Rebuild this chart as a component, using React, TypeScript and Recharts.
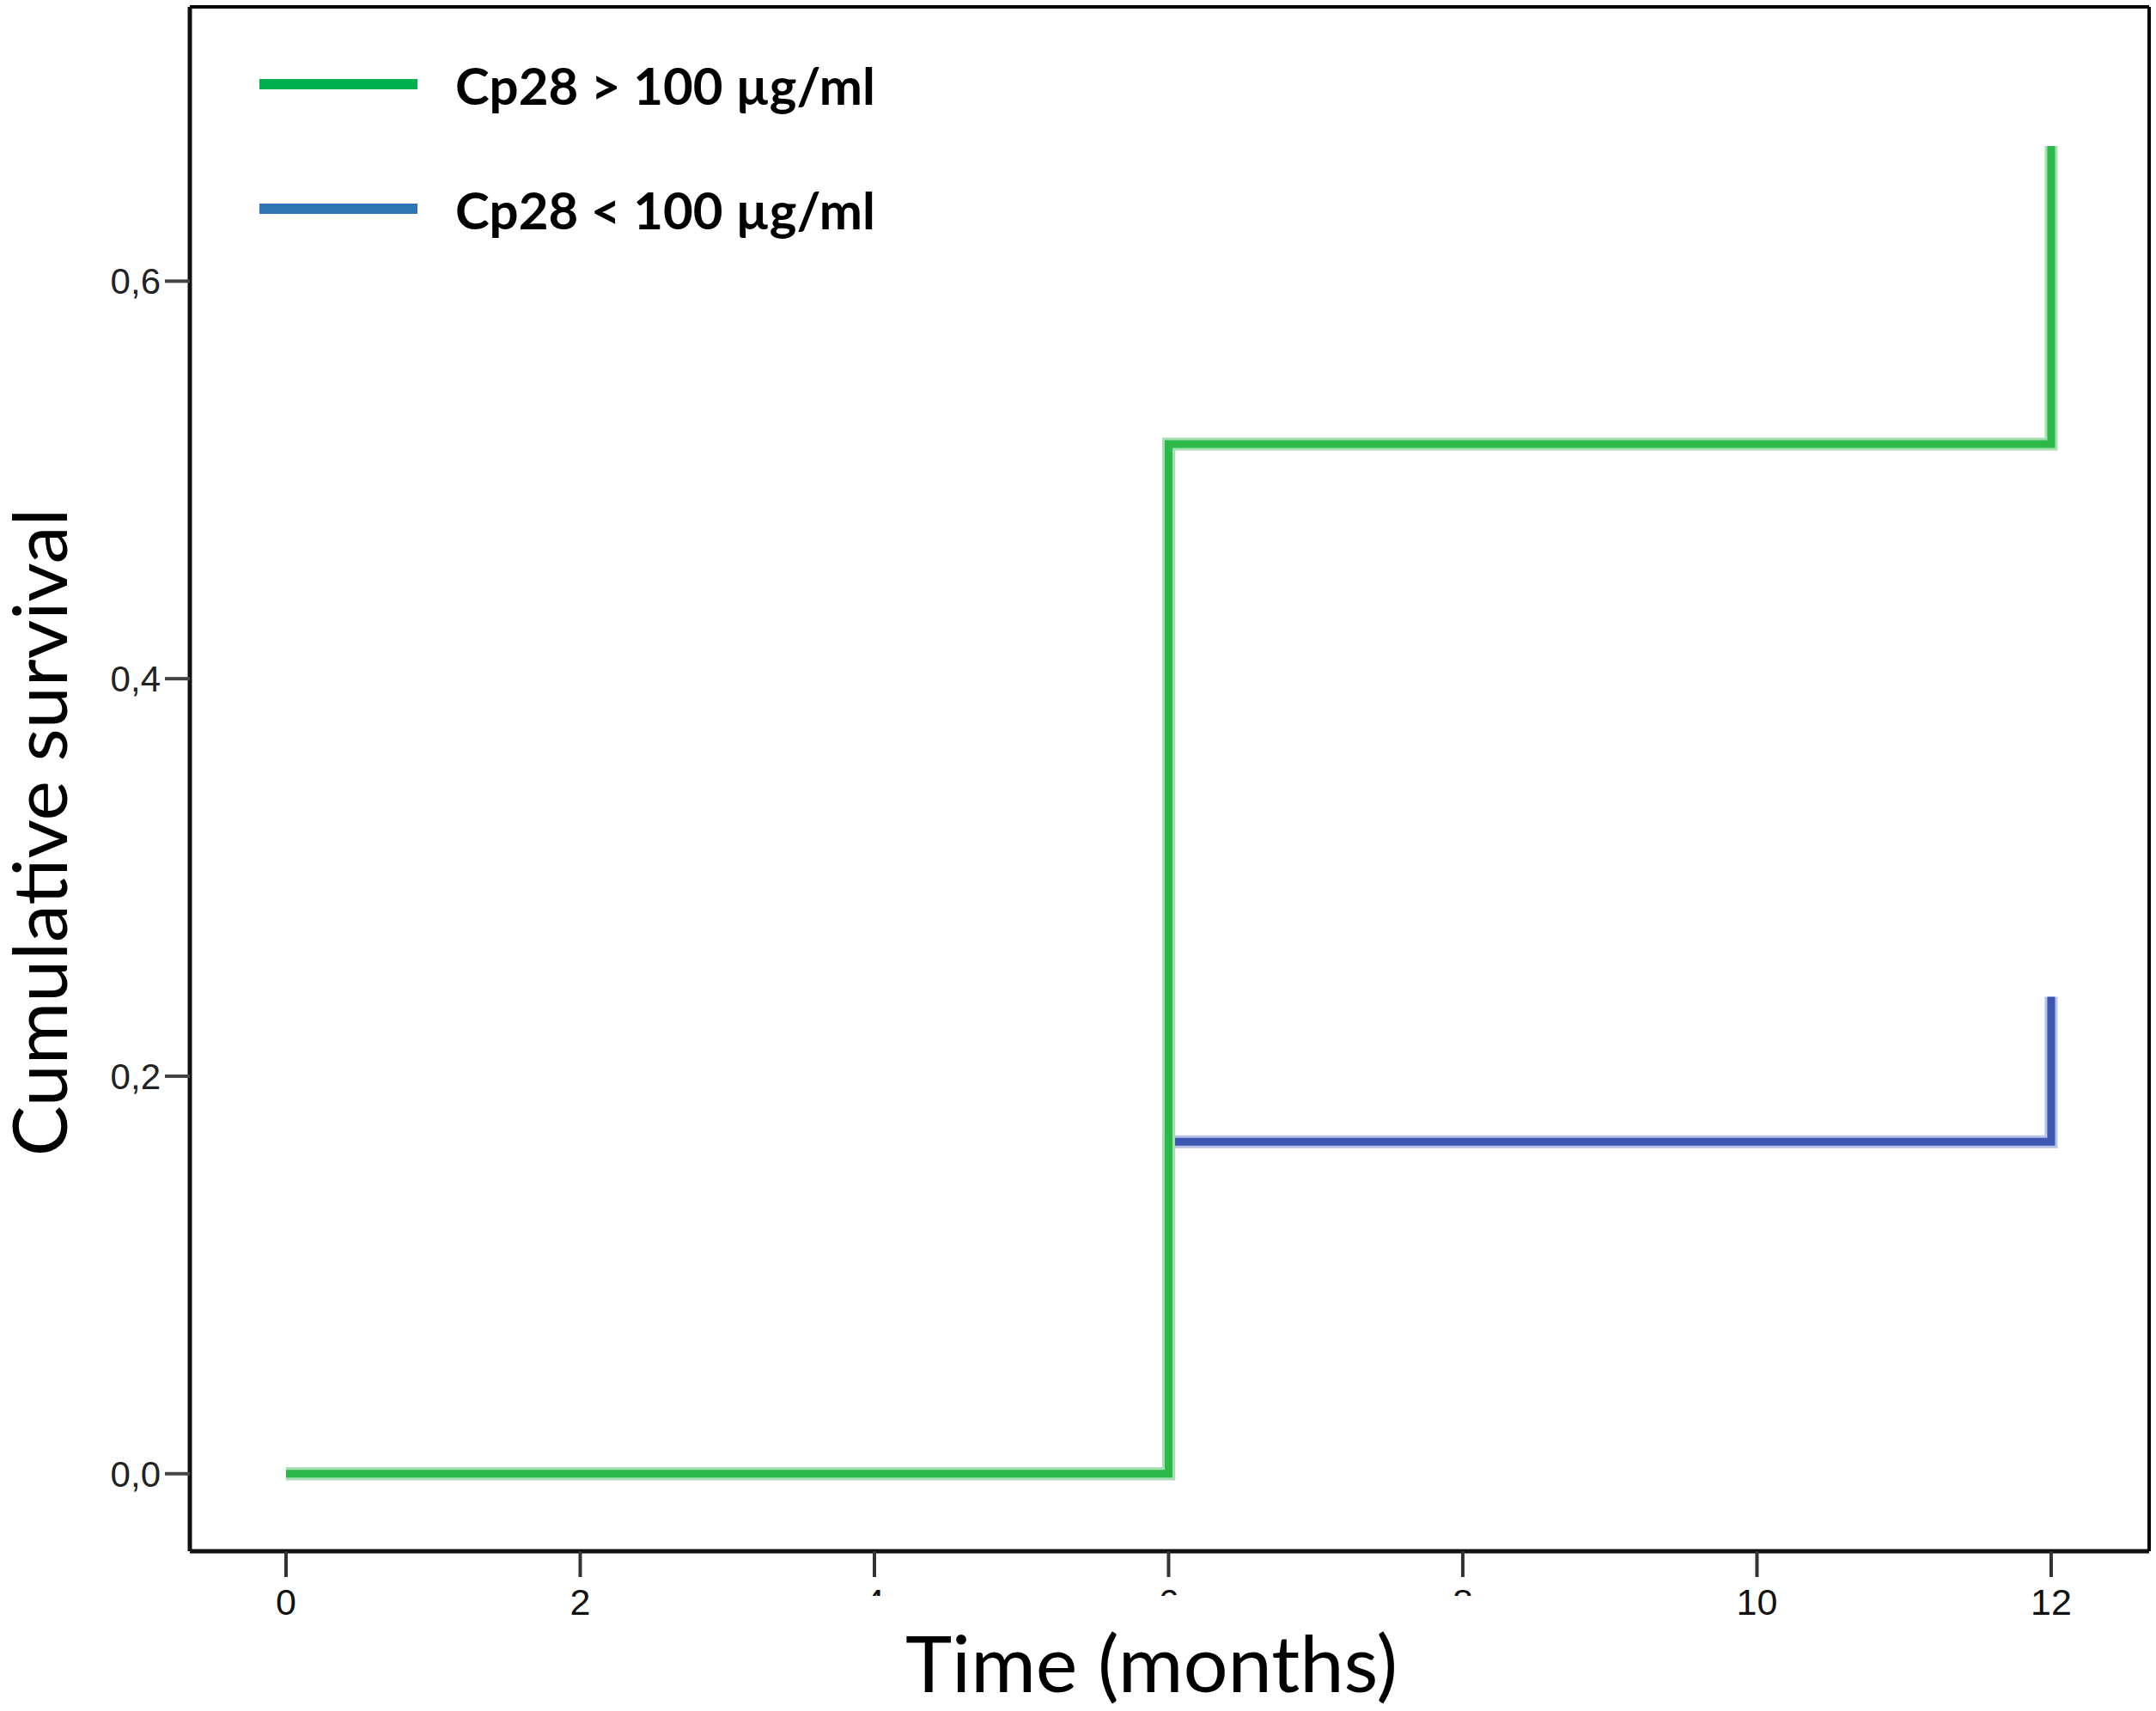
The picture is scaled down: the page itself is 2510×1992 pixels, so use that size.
import React from 'react';
import { LineChart, Line, XAxis, YAxis, Legend } from 'recharts';

// ---- data ----
const months = [0, 6, 12];
const highSurvival = [0, 0.518, 0.668]; // Cp28 > 100 µg/ml
const lowSurvival = [0, 0.167, 0.24]; // Cp28 < 100 µg/ml
const xTicks = [0, 2, 4, 6, 8, 10, 12];
const yTicks = [0, 0.2, 0.4, 0.6];
const partialXLabels = [4, 6, 8]; // labels that are cut off in the original
const seriesNames = ['Cp28 > 100 µg/ml', 'Cp28 < 100 µg/ml'];
const legendColors = ['#00b050', '#2e75b6'];
const xTitle = 'Time (months)';
const yTitle = 'Cumulative survival';

const data = months.map((m, i) => ({ month: m, high: highSurvival[i], low: lowSurvival[i] }));

const X_DOMAIN: [number, number] = [-0.654, 12.666];
const Y_DOMAIN: [number, number] = [-0.039, 0.738];

const tickFont = "'Liberation Sans', Arial, sans-serif";
const titleFont = "Lato, 'Open Sans', sans-serif";

const XTick = (props: any) => {
  const { x, y, payload } = props;
  const partial = partialXLabels.includes(payload.value);
  const id = `clip-xtick-${payload.value}`;
  return (
    <g>
      {partial && (
        <defs>
          <clipPath id={id}>
            <rect x={x - 30} y={y - 2} width={60} height={11} />
          </clipPath>
        </defs>
      )}
      <text
        x={x}
        y={y}
        dy="0.71em"
        textAnchor="middle"
        fontFamily={tickFont}
        fontSize={43}
        fill="#111"
        clipPath={partial ? `url(#${id})` : undefined}
      >
        {payload.value}
      </text>
    </g>
  );
};

const YTick = (props: any) => {
  const { x, y, payload } = props;
  return (
    <text x={x} y={y} dy="0.36em" textAnchor="end" fontFamily={tickFont} fontSize={42} fill="#222">
      {Number(payload.value).toFixed(1).replace('.', ',')}
    </text>
  );
};

const YTitle = (props: any) => {
  const { viewBox } = props;
  const cx = viewBox.x + 78;
  const cy = viewBox.y + viewBox.height / 2 + 62;
  return (
    <text
      x={cx}
      y={cy}
      transform={`rotate(-90, ${cx}, ${cy})`}
      textAnchor="middle"
      fontFamily={titleFont}
      fontSize={88}
      fill="#000"
    >
      {yTitle}
    </text>
  );
};

const XTitle = (props: any) => {
  const { viewBox } = props;
  const cx = viewBox.x + viewBox.width / 2 - 21;
  const cy = viewBox.y + 164;
  return (
    <text x={cx} y={cy} textAnchor="middle" fontFamily={titleFont} fontSize={92} fill="#000">
      {xTitle}
    </text>
  );
};

const LegendContent = () => (
  <svg width={1300} height={320} style={{ display: 'block', overflow: 'visible' }}>
    {seriesNames.map((name, i) => {
      const ly = 98 + i * 145;
      return (
        <g key={name}>
          <line x1={302} x2={486} y1={ly} y2={ly} stroke={legendColors[i]} strokeWidth={12} />
          <text
            x={530}
            y={ly + 24}
            fontFamily={titleFont}
            fontWeight={700}
            fontSize={60}
            fill="#000"
          >
            {name}
          </text>
        </g>
      );
    })}
  </svg>
);

export default function App() {
  return (
    <div style={{ position: 'absolute', left: 0, top: 0, background: '#fff' }}>
      <LineChart width={2510} height={1992} data={data} margin={{ top: 7, right: 7, left: 0, bottom: 0 }}>
        <XAxis
          dataKey="month"
          type="number"
          domain={X_DOMAIN}
          allowDataOverflow
          ticks={xTicks}
          interval={0}
          height={186}
          tickSize={30}
          tickMargin={13}
          axisLine={{ stroke: '#111', strokeWidth: 5 }}
          tickLine={{ stroke: '#333', strokeWidth: 4 }}
          tick={<XTick />}
          label={<XTitle />}
        />
        <XAxis
          xAxisId="top"
          orientation="top"
          dataKey="month"
          type="number"
          domain={X_DOMAIN}
          allowDataOverflow
          height={1}
          tick={false}
          tickLine={false}
          axisLine={{ stroke: '#000', strokeWidth: 4 }}
        />
        <YAxis
          type="number"
          domain={Y_DOMAIN}
          allowDataOverflow
          ticks={yTicks}
          interval={0}
          width={221}
          tickSize={29}
          tickMargin={5}
          axisLine={{ stroke: '#111', strokeWidth: 5 }}
          tickLine={{ stroke: '#444', strokeWidth: 4 }}
          tick={<YTick />}
          label={<YTitle />}
        />
        <YAxis
          yAxisId="right"
          orientation="right"
          type="number"
          domain={Y_DOMAIN}
          allowDataOverflow
          width={1}
          tick={false}
          tickLine={false}
          axisLine={{ stroke: '#000', strokeWidth: 4 }}
        />
        <Legend
          layout="horizontal"
          verticalAlign="middle"
          align="center"
          content={<LegendContent />}
          wrapperStyle={{ position: 'absolute', left: 0, top: 0, width: 1300, height: 320 }}
        />
        <Line
          type="stepAfter"
          dataKey="low"
          stroke="#b7c3e8"
          strokeWidth={15}
          dot={false}
          activeDot={false}
          legendType="none"
          isAnimationActive={false}
        />
        <Line
          type="stepAfter"
          dataKey="low"
          name={seriesNames[1]}
          stroke="#3d56b0"
          strokeWidth={9}
          dot={false}
          activeDot={false}
          isAnimationActive={false}
        />
        <Line
          type="stepAfter"
          dataKey="high"
          stroke="#a6dfb0"
          strokeWidth={15}
          dot={false}
          activeDot={false}
          legendType="none"
          isAnimationActive={false}
        />
        <Line
          type="stepAfter"
          dataKey="high"
          name={seriesNames[0]}
          stroke="#2db84a"
          strokeWidth={9}
          dot={false}
          activeDot={false}
          isAnimationActive={false}
        />
      </LineChart>
    </div>
  );
}
